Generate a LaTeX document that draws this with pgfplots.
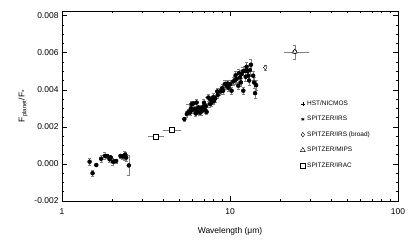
\documentclass[border=0pt]{standalone}
\usepackage{pgfplots}
\usepackage{pgfplotstable}
\pgfplotsset{compat=1.18}
\usepackage{fontspec}
\setmainfont{Liberation Sans}

\pgfplotstableread{
x y ex ey
1.46 0.00012 0.03 0.00020
1.52 -0.00050 0.03 0.00018
1.60 -0.00006 0.03 0.00008
1.71 0.00028 0.03 0.00018
1.80 0.00043 0.03 0.00020
1.86 0.00042 0.03 0.00010
1.92 0.00025 0.03 0.00018
1.95 0.00035 0.03 0.00012
2.01 0.00012 0.03 0.00020
2.05 0.00014 0.03 0.00010
2.10 0.00016 0.03 0.00012
2.23 0.00043 0.03 0.00010
2.30 0.00040 0.03 0.00012
2.35 0.00046 0.03 0.00025
2.38 0.00050 0.03 0.00015
2.41 0.00034 0.03 0.00020
2.50 -0.00008 0.04 0.00055
}\hst

\pgfplotstableread{
x y ex ey
5.35 0.00242 0.05 0.00012
5.53 0.00269 0.05 0.00015
5.66 0.00281 0.05 0.00015
5.78 0.00277 0.05 0.00015
5.85 0.00300 0.05 0.00015
5.92 0.00323 0.45 0.00018
6.00 0.00290 0.05 0.00015
6.05 0.00326 0.35 0.00015
6.18 0.00296 0.05 0.00015
6.25 0.00272 0.05 0.00015
6.33 0.00331 0.05 0.00018
6.40 0.00285 0.05 0.00015
6.48 0.00304 0.05 0.00015
6.62 0.00277 0.05 0.00015
6.70 0.00300 0.05 0.00015
6.78 0.00283 0.05 0.00018
6.93 0.00308 0.05 0.00015
7.00 0.00330 0.05 0.00018
7.10 0.00290 0.05 0.00015
7.20 0.00312 0.05 0.00015
7.26 0.00281 0.05 0.00015
7.43 0.00358 0.35 0.00020
7.60 0.00323 0.05 0.00018
7.65 0.00348 0.05 0.00018
7.78 0.00331 0.05 0.00018
7.95 0.00360 0.05 0.00020
8.03 0.00340 0.05 0.00020
8.17 0.00353 0.05 0.00020
8.40 0.00391 0.30 0.00020
8.45 0.00372 0.05 0.00020
8.71 0.00391 0.05 0.00020
8.90 0.00395 0.05 0.00018
9.00 0.00410 0.05 0.00020
9.10 0.00395 0.05 0.00020
9.32 0.00431 0.05 0.00022
9.54 0.00422 0.05 0.00020
9.68 0.00434 0.05 0.00020
9.80 0.00410 0.05 0.00020
10.05 0.00430 0.05 0.00020
10.22 0.00395 0.05 0.00020
10.46 0.00445 0.05 0.00022
10.70 0.00452 0.05 0.00020
10.80 0.00478 0.05 0.00022
10.94 0.00458 0.05 0.00025
11.20 0.00422 0.05 0.00020
11.30 0.00490 0.05 0.00022
11.46 0.00466 0.05 0.00022
11.60 0.00440 0.05 0.00020
11.72 0.00485 0.05 0.00022
11.95 0.00500 0.05 0.00022
12.00 0.00395 0.05 0.00020
12.27 0.00503 0.05 0.00025
12.40 0.00470 0.05 0.00025
12.55 0.00524 0.05 0.00025
12.70 0.00500 0.05 0.00025
12.85 0.00476 0.05 0.00025
13.00 0.00450 0.05 0.00025
13.14 0.00506 0.05 0.00025
13.32 0.00535 0.05 0.00030
13.73 0.00476 0.05 0.00025
13.91 0.00439 0.05 0.00028
14.10 0.00382 0.05 0.00025
14.30 0.00425 0.05 0.00025
}\irs

\pgfplotstableread{
x y exm exp ey
16.2 0.00520 0.0 0.0 0.00015
}\broad

\pgfplotstableread{
x y exm exp ey
24.3 0.00605 3.2 5.2 0.00038
}\mips

\pgfplotstableread{
x y exm exp ey
3.6 0.00149 0.36 0.44 0.0
4.5 0.00184 0.50 0.60 0.0
}\irac

\begin{document}
\begin{tikzpicture}
\begin{semilogxaxis}[
  scale only axis, width=336bp, height=190bp,
  xmin=1, xmax=100, ymin=-0.002, ymax=0.00825,
  xtick={1,10,100}, xticklabels={1,10,100},
  ytick={-0.002,0,0.002,0.004,0.006,0.008},
  minor y tick num=3,
  scaled y ticks=false,
  yticklabel style={/pgf/number format/.cd, fixed, fixed zerofill, precision=3, assume math mode=true},
  tick label style={font=\fontsize{8.5}{10}\selectfont},
  xticklabel style={yshift=-4bp},
  tick align=inside,
  major tick length=5bp, minor tick length=2.5bp,
  axis line style={line width=0.6bp},
  every tick/.style={black, line width=0.5bp},
  xlabel={Wavelength (μm)},
  ylabel={F\textsubscript{planet}/F\textsubscript{*}},
  label style={font=\fontsize{8.5}{10}\selectfont},
  xlabel style={at={(axis description cs:0.5,-0.158)}, anchor=center},
  ylabel style={at={(axis description cs:-0.116,0.5)}, anchor=center},
  legend style={draw=none, fill=none, at={(axis description cs:0.70,0.55)}, anchor=north west,
    font=\fontsize{6.5}{7}\selectfont, row sep=5.3bp},
  legend cell align=left,
  error bars/error bar style={black!50, line width=0.4bp},
]
% x error bars (no caps)
\addplot[forget plot, only marks, mark=none, error bars/.cd, x dir=both, x explicit, error mark=none]
  table[x=x, y=y, x error=ex] {\hst};
\addplot[forget plot, only marks, mark=none, error bars/.cd, x dir=both, x explicit, error mark=none]
  table[x=x, y=y, x error=ex] {\irs};
\addplot[forget plot, only marks, mark=none, error bars/.cd, x dir=both, x explicit, error mark=none]
  table[x=x, y=y, x error plus=exp, x error minus=exm] {\mips};
\addplot[forget plot, only marks, mark=none, error bars/.cd, x dir=both, x explicit, error mark=none]
  table[x=x, y=y, x error plus=exp, x error minus=exm] {\irac};
% y error bars with marks
\addplot[only marks, mark=+, mark size=1.8bp, black, line width=0.4bp,
  error bars/.cd, y dir=both, y explicit, error mark options={rotate=90, mark size=1.5bp, black!50}]
  table[x=x, y=y, y error=ey] {\hst};
\addlegendentry{HST/NICMOS}
\addplot[only marks, mark=asterisk, mark size=1.7bp, black, line width=0.6bp,
  error bars/.cd, y dir=both, y explicit, error mark options={rotate=90, mark size=1.5bp, black!50}]
  table[x=x, y=y, y error=ey] {\irs};
\addlegendentry{SPITZER/IRS}
\addplot[only marks, mark=diamond*, mark size=2.3bp, black, line width=0.4bp, mark options={fill=white},
  error bars/.cd, y dir=both, y explicit, error mark options={rotate=90, mark size=1.5bp, black!50}]
  table[x=x, y=y, y error=ey] {\broad};
\addlegendentry{SPITZER/IRS (broad)}
\addplot[only marks, mark=triangle*, mark size=2.8bp, black, line width=0.4bp, mark options={fill=white},
  error bars/.cd, y dir=both, y explicit, error mark options={rotate=90, mark size=1.5bp, black!50}]
  table[x=x, y=y, y error=ey] {\mips};
\addlegendentry{SPITZER/MIPS}
\addplot[only marks, mark=square*, mark size=2.4bp, black, line width=0.4bp, mark options={fill=white}]
  table[x=x, y=y] {\irac};
\addlegendentry{SPITZER/IRAC}
\end{semilogxaxis}
\path (current axis.south west) ++(-62bp,-42bp) rectangle ++(415bp,243bp);
\end{tikzpicture}
\end{document}
